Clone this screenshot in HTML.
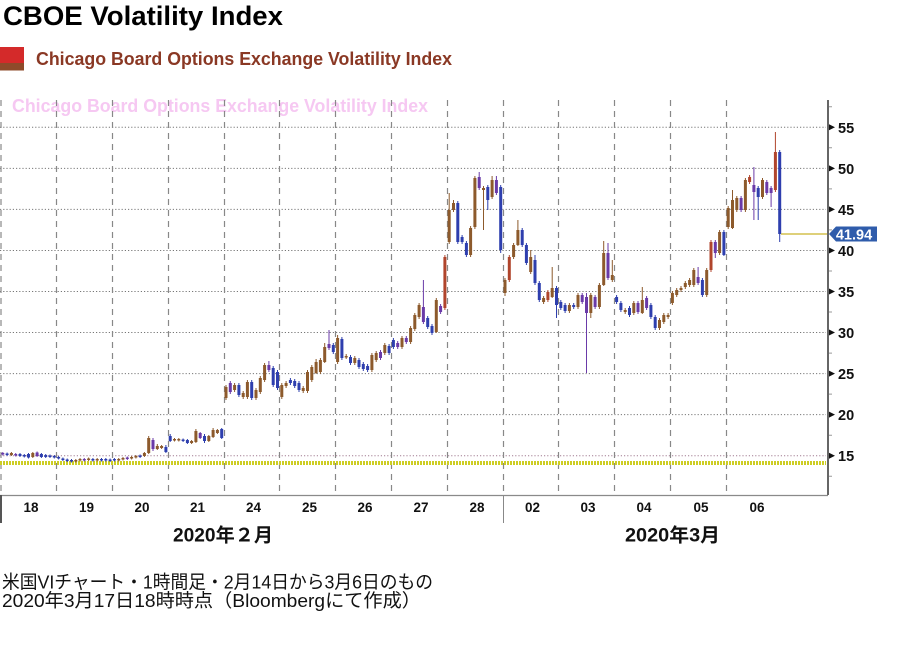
<!DOCTYPE html>
<html><head><meta charset="utf-8"><style>
html,body{margin:0;padding:0;background:#fff;}
svg{display:block;}
.t{font-family:"Liberation Sans",Arial,sans-serif;font-weight:bold;}
.j{font-family:"Liberation Sans","Noto Sans CJK JP",sans-serif;}
</style></head><body>
<svg width="900" height="645" viewBox="0 0 900 645" xmlns="http://www.w3.org/2000/svg">
<rect width="900" height="645" fill="#fff"/>
<!-- title & legend -->
<text class="t" x="3" y="25" font-size="27" fill="#000" textLength="280" lengthAdjust="spacingAndGlyphs">CBOE Volatility Index</text>
<rect x="0" y="47" width="24" height="16" fill="#d42a2a"/>
<rect x="0" y="63" width="24" height="7.5" fill="#8e4a2a"/>
<text class="t" x="36" y="65" font-size="18" fill="#8a3824" textLength="416" lengthAdjust="spacingAndGlyphs">Chicago Board Options Exchange Volatility Index</text>
<text class="t" x="12" y="112" font-size="18" fill="#f6c8f2" textLength="416" lengthAdjust="spacingAndGlyphs">Chicago Board Options Exchange Volatility Index</text>

<!-- horizontal grid -->
<g stroke="#777" stroke-width="1" stroke-dasharray="1.2,2" fill="none">
<path d="M0 127.3H826M0 168.35H826M0 209.4H826M0 250.45H826M0 291.5H826M0 332.55H826M0 373.6H826M0 414.65H826"/>
</g>
<path d="M0 455.7H826" stroke="#a27c92" stroke-width="1" stroke-dasharray="1.2,2"/>
<!-- vertical dashed -->
<g stroke="#888" stroke-width="1.2" stroke-dasharray="6,5" fill="none">
<path d="M1 100V495M56.5 100V495M112.5 100V495M168.5 100V495M224.5 100V495M279.5 100V495M335.5 100V495M391.5 100V495M447.5 100V495M503.5 100V495M558.5 100V495M614.5 100V495M670.5 100V495M726.5 100V495"/>
</g>
<!-- yellow thick dotted -->
<path d="M0 463H826" stroke="#cdcd24" stroke-width="4" stroke-dasharray="2,1"/>

<!-- candles: U brown -->
<path fill="#8d5a2c" d="M9.9 453h3V455h-3zM31.3 453h3V457h-3zM74.3 460h3V461.5h-3zM78.5 459h3V460.5h-3zM87.1 458.5h3V460h-3zM95.7 459h3V460.5h-3zM117.2 459h3V460.5h-3zM121.5 458h3V459.5h-3zM130.1 457h3V458.5h-3zM134.4 456h3V457.5h-3zM142.9 453h3V456h-3zM147.2 438h3V453h-3zM155.8 446h3V449h-3zM160.1 446h3V448h-3zM173 439h3V440.5h-3zM177.3 439h3V440.5h-3zM190.1 441h3V443h-3zM194.4 431h3V442h-3zM207.3 436h3V441h-3zM211.6 430h3V437h-3zM215.9 430h3V433h-3zM224.5 387h3V398h-3zM233.1 385h3V390h-3zM241.7 393h3V397h-3zM245.9 382h3V397h-3zM254.5 390h3V398h-3zM258.8 378h3V392h-3zM263.1 365h3V380h-3zM280.3 385h3V397h-3zM284.6 383h3V386h-3zM301.7 388h3V391h-3zM306 372h3V391h-3zM310.3 367h3V380h-3zM314.6 362h3V373h-3zM318.9 360h3V372h-3zM323.2 347h3V362h-3zM336.1 338h3V362h-3zM344.7 356h3V357.5h-3zM353.3 358h3V363h-3zM370.4 355h3V370h-3zM374.7 353h3V360h-3zM383.3 345h3V353h-3zM400.5 338h3V347h-3zM409.1 328h3V342h-3zM413.3 315h3V329h-3zM417.6 305h3V317h-3zM434.8 300h3V332h-3zM447.7 210h3V242h-3zM452 203h3V210h-3zM469.1 228h3V255h-3zM473.4 178h3V227h-3zM482 188h3V190h-3zM490.6 180h3V197h-3zM503.5 280h3V293h-3zM512.1 245h3V257h-3zM516.4 230h3V245h-3zM529.2 257h3V272h-3zM542.1 298h3V302h-3zM550.7 288h3V297h-3zM567.9 305h3V311h-3zM576.5 295h3V307h-3zM589.3 295h3V313h-3zM597.9 285h3V307h-3zM602.2 253h3V285h-3zM610.8 275h3V280h-3zM623.7 310h3V312h-3zM632.3 303h3V313h-3zM640.8 300h3V313h-3zM658 320h3V328h-3zM662.3 315h3V322h-3zM666.6 315h3V317h-3zM670.9 293h3V303h-3zM675.2 290h3V295h-3zM679.5 288h3V290h-3zM683.8 283h3V287h-3zM688.1 280h3V285h-3zM692.3 270h3V285h-3zM705.2 270h3V295h-3zM718.1 232h3V253h-3zM726.7 208h3V227h-3zM731 200h3V228h-3zM735.3 198h3V210h-3zM743.9 180h3V210h-3zM761 180h3V197h-3z"/>
<path fill="none" stroke="#8d5a2c" stroke-width="1" d="M11.4 452V456M32.8 452V458M75.8 459V462.5M80 458V461.5M88.6 457.5V461M97.2 458V461.5M118.7 458V461.5M123 457V460.5M131.6 456V459.5M135.9 455V458.5M144.4 452V457M148.7 436V454M157.3 444V450M161.6 445V449M174.5 438V441.5M178.8 438V441.5M191.6 440V444M195.9 429V443M208.8 435V442M213.1 428V438M217.4 429V434M226 385V400M234.6 383V392M243.2 391V399M247.4 380V399M256 388V400M260.3 376V394M264.6 363V382M281.8 383V399M286.1 381V388M303.2 386V393M307.5 370V393M311.8 365V382M316.1 359V374M320.4 358V374M324.7 343V363M337.6 335V364M346.2 354V359M354.8 356V365M371.9 353V372M376.2 351V362M384.8 343V355M402 336V349M410.6 326V344M414.8 313V331M419.1 303V319M436.3 298V333M449.2 193V244M453.5 200V212M470.6 226V257M474.9 176V229M483.5 186V230M492.1 176V199M505 278V296M513.6 243V259M517.9 220V246M530.7 250V274M543.6 296V304M552.2 267V298M569.4 303V313M578 293V309M590.8 293V318M599.4 283V309M603.7 241V286M612.3 260V282M625.2 308V314M633.8 301V315M642.3 287V314M659.5 318V330M663.8 313V324M668.1 313V319M672.4 291V305M676.7 288V297M681 286V292M685.3 281V289M689.6 278V287M693.8 268V287M706.7 268V297M719.6 230V255M728.2 206V229M732.5 190V229M736.8 196V212M745.4 178V212M762.5 178V199"/>
<!-- R red-brown -->
<path fill="#b0452c" d="M443.4 257h3V308h-3zM507.8 257h3V280h-3zM546.4 292h3V300h-3zM709.5 242h3V270h-3zM748.1 177h3V182h-3zM773.9 152h3V190h-3z"/>
<path fill="none" stroke="#b0452c" stroke-width="1" d="M444.9 255V310M509.3 255V282M547.9 290V302M711 240V272M749.6 175V184M775.4 132V192"/>
<!-- B blue -->
<path fill="#2e3fae" d="M5.6 453.5h3V455h-3zM18.5 454h3V456h-3zM22.8 455h3V456.5h-3zM27 454h3V457.5h-3zM39.9 454h3V457h-3zM44.2 455h3V457h-3zM48.5 455.5h3V457h-3zM52.8 456h3V457.5h-3zM57.1 457h3V458.5h-3zM61.4 458.5h3V460h-3zM65.7 459.5h3V461h-3zM70 460h3V461.5h-3zM91.4 459h3V460.5h-3zM100 459h3V460.5h-3zM104.3 459h3V460.5h-3zM108.6 459.5h3V461h-3zM112.9 459h3V460.5h-3zM138.6 455.5h3V457h-3zM164.4 447h3V452h-3zM168.7 436h3V441h-3zM181.6 439.5h3V441h-3zM185.9 440h3V443h-3zM203 436h3V441h-3zM220.2 429h3V438h-3zM237.4 385h3V395h-3zM250.2 382h3V398h-3zM271.7 368h3V385h-3zM276 372h3V388h-3zM288.9 380h3V383h-3zM293.2 381h3V386h-3zM297.5 383h3V390h-3zM331.8 345h3V352h-3zM340.4 339h3V358h-3zM349 357h3V363h-3zM357.5 360h3V367h-3zM361.8 364h3V369h-3zM366.1 366h3V370h-3zM387.6 346h3V353h-3zM391.9 340h3V347h-3zM426.2 318h3V327h-3zM430.5 326h3V333h-3zM456.3 203h3V242h-3zM460.6 237h3V242h-3zM464.9 243h3V255h-3zM486.3 187h3V200h-3zM499.2 187h3V250h-3zM520.7 230h3V245h-3zM524.9 245h3V263h-3zM533.5 260h3V283h-3zM537.8 283h3V300h-3zM555 288h3V305h-3zM559.3 302h3V308h-3zM563.6 305h3V311h-3zM572.2 305h3V307h-3zM615.1 297h3V302h-3zM619.4 303h3V310h-3zM628 308h3V315h-3zM649.4 305h3V317h-3zM653.7 317h3V328h-3zM700.9 280h3V295h-3zM722.4 232h3V255h-3zM756.7 188h3V197h-3zM778.2 152h3V234h-3z"/>
<path fill="none" stroke="#2e3fae" stroke-width="1" d="M7.1 452.5V456M20 453V457M24.3 454V457.5M28.5 453V458.5M41.4 453V458M45.7 454V458M50 454.5V458M54.3 455V458.5M58.6 456V459.5M62.9 457.5V461M67.2 458.5V462M71.5 459V462.5M92.9 458V461.5M101.5 458V461.5M105.8 458V461.5M110.1 458.5V462M114.4 458V461.5M140.1 454.5V458M165.9 445V453M170.2 434V442M183.1 438.5V442M187.4 439V444M204.5 434V443M221.7 428V439M238.9 383V397M251.7 380V400M273.2 366V387M277.5 370V390M290.4 378V385M294.7 379V388M299 381V392M333.3 343V354M341.9 337V360M350.5 355V365M359 358V369M363.3 362V371M367.6 364V372M389.1 344V355M393.4 338V349M427.7 316V329M432 324V335M457.8 201V244M462.1 235V244M466.4 241V257M487.8 185V210M500.7 185V253M522.2 228V247M526.4 243V265M535 255V285M539.3 281V302M556.5 286V318M560.8 300V310M565.1 303V313M573.7 303V309M616.6 295V304M620.9 301V312M629.5 306V317M650.9 303V319M655.2 315V330M702.4 278V297M723.9 230V256M758.2 186V220M779.7 150V242"/>
<!-- P purple -->
<path fill="#6a3aa8" d="M1.3 453h3V454.5h-3zM14.2 454h3V455.5h-3zM35.6 452.5h3V456h-3zM82.8 459h3V460.5h-3zM125.8 457.5h3V459h-3zM151.5 440h3V449h-3zM198.7 433h3V438h-3zM228.8 383h3V392h-3zM267.4 365h3V370h-3zM327.5 344h3V348h-3zM379 352h3V358h-3zM396.2 343h3V347h-3zM404.8 338h3V342h-3zM421.9 307h3V322h-3zM439.1 306h3V312h-3zM477.7 177h3V188h-3zM494.9 180h3V193h-3zM580.7 295h3V302h-3zM585 297h3V313h-3zM593.6 297h3V307h-3zM606.5 253h3V278h-3zM636.5 303h3V312h-3zM645.1 298h3V308h-3zM696.6 277h3V283h-3zM713.8 242h3V253h-3zM739.6 198h3V210h-3zM752.4 185h3V192h-3zM765.3 182h3V193h-3zM769.6 188h3V193h-3z"/>
<path fill="none" stroke="#6a3aa8" stroke-width="1" d="M2.8 452V455.5M15.7 453V456.5M37.1 451.5V457M84.3 458V461.5M127.3 456.5V460M153 438V451M200.2 432V439M230.3 381V394M268.9 361V372M329 330V350M380.5 350V360M397.7 341V349M406.3 336V344M423.4 280V324M440.6 304V314M479.2 172V190M496.4 176V195M582.2 293V304M586.5 293V373M595.1 295V309M608 243V280M638 301V314M646.6 296V310M698.1 267V285M715.3 240V258M741.1 196V212M753.9 167V220M766.8 180V195M771.1 186V207"/>

<!-- last price line -->
<path d="M781 234H827" stroke="#c9b52a" stroke-width="1.2"/>

<!-- axes -->
<path d="M828 100V495" stroke="#666" stroke-width="2"/>
<path d="M0 495.5H828" stroke="#8a8a8a" stroke-width="1.3"/>
<path d="M1 495V523" stroke="#555" stroke-width="2"/>
<path d="M503.5 495V523" stroke="#888" stroke-width="1"/>
<g stroke="#999" stroke-width="1">
<path d="M829 106.8H832M829 147.8H832M829 188.9H832M829 229.9H832M829 271H832M829 312H832M829 353.1H832M829 394.1H832M829 435.2H832M829 476.2H832"/>
</g>
<g fill="#111">
<polygon points="829,124.3 835,127.3 829,130.3"/>
<polygon points="829,165.35 835,168.35 829,171.35"/>
<polygon points="829,206.4 835,209.4 829,212.4"/>
<polygon points="829,247.45 835,250.45 829,253.45"/>
<polygon points="829,288.5 835,291.5 829,294.5"/>
<polygon points="829,329.55 835,332.55 829,335.55"/>
<polygon points="829,370.6 835,373.6 829,376.6"/>
<polygon points="829,411.65 835,414.65 829,417.65"/>
<polygon points="829,452.7 835,455.7 829,458.7"/>
</g>
<g class="t" font-size="14.5" fill="#111">
<text x="838" y="132.8">55</text>
<text x="838" y="173.9">50</text>
<text x="838" y="214.9">45</text>
<text x="838" y="256">40</text>
<text x="838" y="297">35</text>
<text x="838" y="338">30</text>
<text x="838" y="379">25</text>
<text x="838" y="420">20</text>
<text x="838" y="461">15</text>
</g>
<!-- last price tag -->
<polygon points="829,234 836,226.5 877,226.5 877,241.5 836,241.5" fill="#2f5cab"/>
<text class="t" x="854" y="239.3" font-size="14.5" fill="#fff" text-anchor="middle">41.94</text>

<!-- day labels -->
<g class="t" font-size="13.5" fill="#111" text-anchor="middle">
<text x="31" y="512">18</text>
<text x="86.5" y="512">19</text>
<text x="142" y="512">20</text>
<text x="197.5" y="512">21</text>
<text x="253.5" y="512">24</text>
<text x="309.5" y="512">25</text>
<text x="365" y="512">26</text>
<text x="421" y="512">27</text>
<text x="477" y="512">28</text>
<text x="532.5" y="512">02</text>
<text x="588" y="512">03</text>
<text x="644" y="512">04</text>
<text x="701" y="512">05</text>
<text x="757" y="512">06</text>
</g>
<text class="j" x="173" y="541.5" font-size="19" font-weight="bold" fill="#111" textLength="100" lengthAdjust="spacingAndGlyphs">2020年２月</text>
<text class="j" x="625" y="541.5" font-size="19" font-weight="bold" fill="#111" textLength="95" lengthAdjust="spacingAndGlyphs">2020年3月</text>

<!-- footnotes -->
<text class="j" x="2" y="588.5" font-size="18.5" fill="#111" textLength="431" lengthAdjust="spacingAndGlyphs">米国VIチャート・1時間足・2月14日から3月6日のもの</text>
<text class="j" x="2" y="607" font-size="18.5" fill="#111" textLength="419" lengthAdjust="spacingAndGlyphs">2020年3月17日18時時点（Bloombergにて作成）</text>
</svg>
</body></html>
